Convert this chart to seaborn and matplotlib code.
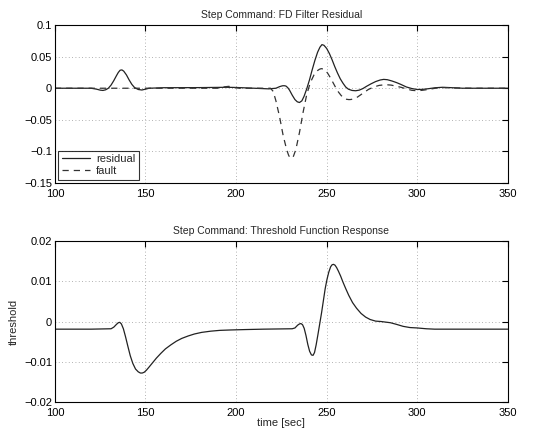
import matplotlib
matplotlib.use("Agg")
import matplotlib.pyplot as plt
import seaborn as sns

# ---- data ----
res_t = [100, 100.05, 100.1, 120, 123, 125, 126.5, 128, 129.5, 131, 132.5, 134, 135, 136,
         137, 138, 139.5, 141, 142.5, 144, 146, 148, 150, 152, 160, 180, 195, 200, 210, 218,
         222, 224, 225.5, 226.5, 227.5, 228.5, 229.5, 231, 232.5, 233.8, 235, 236.3, 237.5,
         239, 240.5, 242, 243.5, 245, 246.3, 247.4, 248.5, 250, 251.5, 253, 254.5, 256, 257.5,
         259, 260.5, 262, 264, 266, 268, 270, 272, 274.5, 277, 279.5, 281.5, 283.5, 286,
         288.5, 291, 294, 297, 300, 303, 306, 310, 314, 318, 325, 350]
res_v = [-0.016, -0.2, 0.0, 0.0, -0.0015, -0.003, -0.0035, -0.0025, 0.0, 0.005, 0.012, 0.020,
         0.025, 0.0285, 0.029, 0.027, 0.021, 0.013, 0.006, 0.001, -0.002, -0.0028, -0.0015,
         0.0, 0.0008, 0.001, 0.0015, 0.0012, 0.0, -0.001, 0.0, 0.0025, 0.0038, 0.004, 0.0035,
         0.001, -0.003, -0.011, -0.018, -0.0215, -0.0226, -0.020, -0.013, -0.001, 0.013,
         0.029, 0.044, 0.057, 0.065, 0.069, 0.068, 0.063, 0.055, 0.045, 0.034, 0.024, 0.015,
         0.008, 0.002, -0.0015, -0.0035, -0.004, -0.003, -0.0005, 0.003, 0.007, 0.0105,
         0.013, 0.014, 0.0135, 0.0115, 0.009, 0.006, 0.002, -0.0005, -0.002, -0.0018,
         -0.0008, 0.0008, 0.0015, 0.001, 0.0, 0.0]

flt_t = [100, 190, 193, 196, 199, 202, 219, 220.5, 222, 224, 226, 228, 229, 229.7, 230.5,
         231.5, 233, 235, 237, 239, 241, 243, 245, 246, 247, 248, 249, 250.5, 252, 253.5,
         255, 256.5, 258, 259.5, 261, 262.3, 263.5, 265, 267, 270, 273, 276, 279, 281.5,
         283.5, 285.5, 288, 291, 294, 297, 300, 303, 306, 310, 315, 320, 330, 350]
flt_v = [0.0, 0.0, 0.002, 0.003, 0.001, 0.0, 0.0, -0.005, -0.02, -0.045, -0.075, -0.098,
         -0.106, -0.110, -0.1105, -0.109, -0.097, -0.070, -0.038, -0.010, 0.009, 0.021, 0.028,
         0.0300, 0.031, 0.0305, 0.029, 0.024, 0.017, 0.009, 0.001, -0.006, -0.0115, -0.0155,
         -0.0175, -0.018, -0.0178, -0.0165, -0.014, -0.008, -0.002, 0.002, 0.0045, 0.0053,
         0.0054, 0.005, 0.0035, 0.0015, -0.001, -0.0033, -0.004, -0.0032, -0.002, 0.0, 0.001,
         0.0005, 0.0, 0.0]

thr_t = [100, 100.05, 100.1, 120, 131, 132.5, 134, 135, 135.8, 136.7, 137.8, 139, 140.3,
         141.6, 143, 144.5, 146, 147.2, 148.2, 149.3, 150.5, 152, 154, 156, 158.5, 161, 164,
         167, 170, 173.5, 177, 181, 186, 191, 197, 205, 215, 231, 232.5, 234, 235, 235.8,
         236.7, 237.6, 238.6, 239.6, 240.6, 241.6, 242.5, 243.3, 244.2, 245.2, 246.2, 247.2,
         248.2, 249.2, 250.2, 251.2, 252.2, 253, 253.8, 254.6, 255.5, 256.5, 257.7, 259,
         260.5, 262.2, 264.3, 266.5, 269, 271.5, 274, 277, 280, 285.2, 288.5, 292.2, 296,
         300, 305, 309.6, 320, 350]
thr_v = [0.0125, -0.03, -0.0019, -0.0019, -0.0018, -0.0014, -0.0007, -0.0003, -0.0002,
         -0.0006, -0.0018, -0.0038, -0.0062, -0.0085, -0.0104, -0.0118, -0.0125, -0.0128,
         -0.0128, -0.0126, -0.0121, -0.0113, -0.0102, -0.0091, -0.0079, -0.0068, -0.0058,
         -0.0049, -0.0042, -0.0036, -0.0031, -0.0027, -0.0024, -0.0022, -0.0021, -0.002,
         -0.0019, -0.0018, -0.0016, -0.0009, -0.0006, -0.0005, -0.0008, -0.0017, -0.0035,
         -0.0057, -0.0074, -0.0083, -0.0084, -0.0077, -0.0058, -0.0032, -0.0005, 0.0022,
         0.0052, 0.0082, 0.0105, 0.0123, 0.0136, 0.0141, 0.0142, 0.014, 0.0134, 0.0125,
         0.0113, 0.0098, 0.0082, 0.0065, 0.0047, 0.0033, 0.002, 0.0011, 0.0005, 0.0001, 0.0,
         -0.0003, -0.0007, -0.0012, -0.0015, -0.0016, -0.0018, -0.0019, -0.0019, -0.0019]

xticks = [100, 150, 200, 250, 300, 350]
top_yticks = [-0.15, -0.1, -0.05, 0, 0.05, 0.1]
bot_yticks = [-0.02, -0.01, 0, 0.01, 0.02]

sns.set_style("white")
plt.rcParams['font.family'] = ['Liberation Sans', 'DejaVu Sans']
plt.rcParams['axes.unicode_minus'] = True

fig = plt.figure(figsize=(5.49, 4.32), dpi=100)
ax1 = fig.add_axes([0.1, 0.5764, 0.825, 0.3656])
ax2 = fig.add_axes([0.1, 0.0694, 0.825, 0.3727])

lc = "#222222"
sns.lineplot(x=res_t, y=res_v, ax=ax1, color=lc, lw=0.9, estimator=None, sort=False,
             label="residual")
sns.lineplot(x=flt_t, y=flt_v, ax=ax1, color="#333333", lw=0.9, estimator=None, sort=False,
             linestyle=(0, (5, 4)), label="fault")
sns.lineplot(x=thr_t, y=thr_v, ax=ax2, color=lc, lw=0.9, estimator=None, sort=False)

def fmt(v):
    if v == 0:
        return "0"
    return ("%g" % v).replace("-", "\u2212")

def style(ax, yticks, ylim):
    ax.set_xlim(100, 350)
    ax.set_ylim(*ylim)
    ax.set_xticks(xticks)
    ax.set_yticks(yticks)
    ax.set_yticklabels([fmt(v) for v in yticks])
    ax.grid(True, linestyle=(0, (1, 3)), color="#999999", lw=0.6)
    ax.tick_params(direction="in", top=True, right=True, labelsize=8, length=4,
                   colors="black")
    ax.tick_params(axis="x", pad=4.5)
    ax.tick_params(axis="y", pad=2)
    for s in ax.spines.values():
        s.set_color("black")
        s.set_linewidth(0.8)

style(ax1, top_yticks, (-0.15, 0.1))
style(ax2, bot_yticks, (-0.02, 0.02))

ax1.set_title("Step Command: FD Filter Residual", fontsize=7.5, pad=5)
ax2.set_title("Step Command: Threshold Function Response", fontsize=7.5, pad=5)
ax2.set_xlabel("time [sec]", fontsize=8, labelpad=0)
ax2.set_ylabel("threshold", fontsize=8, labelpad=4)
ax1.set_xlabel("")
ax1.set_ylabel("")

leg = ax1.legend(loc="lower left", fontsize=8, frameon=True, fancybox=False,
                 edgecolor="black", borderpad=0.3, labelspacing=0.2, handlelength=2.6,
                 borderaxespad=0.3, handletextpad=0.5)
leg.get_frame().set_linewidth(0.8)

fig.savefig("out.png", dpi=100, facecolor="white")
